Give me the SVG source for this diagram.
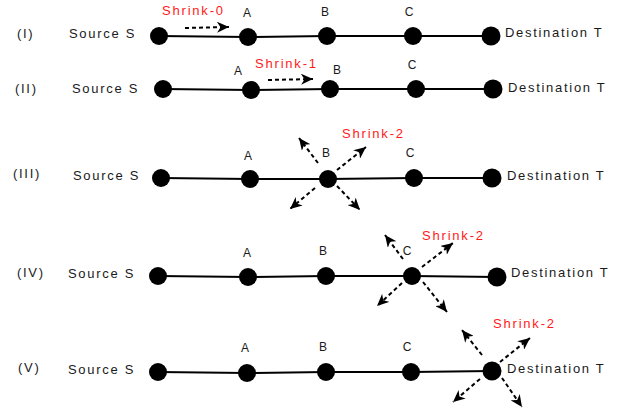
<svg xmlns="http://www.w3.org/2000/svg" width="626" height="410" viewBox="0 0 626 410">
<style>
.t{font-family:"Liberation Sans",Arial,sans-serif;font-size:13px;fill:#1a1a1a;letter-spacing:1.7px}
.l{font-family:"Liberation Sans",Arial,sans-serif;font-size:12px;fill:#1a1a1a;text-anchor:middle}
.r{font-family:"Liberation Sans",Arial,sans-serif;font-size:13px;fill:#ff1a1a;letter-spacing:1.8px}
.e{stroke:#000;stroke-width:2;fill:none}
.d{stroke:#000;stroke-width:2;fill:none;stroke-dasharray:4 3;marker-end:url(#ah)}
.n{fill:#000}
</style>
<defs>
<marker id="ah" markerWidth="13" markerHeight="11" refX="12" refY="5.5" orient="auto" markerUnits="userSpaceOnUse">
<path d="M0,0 L12,5.5 L0,11 L3.5,5.5 z" fill="#000"/>
</marker>
</defs>
<g id="row-labels">
<text class="t" x="17" y="38">(I)</text>
<text class="t" x="15" y="93">(II)</text>
<text class="t" x="13" y="178">(III)</text>
<text class="t" x="17" y="277">(IV)</text>
<text class="t" x="18" y="372">(V)</text>
<text class="t" x="69" y="38">Source S</text>
<text class="t" x="72" y="93">Source S</text>
<text class="t" x="73" y="180">Source S</text>
<text class="t" x="68" y="278">Source S</text>
<text class="t" x="68" y="374">Source S</text>
<text class="t" x="505" y="37">Destination T</text>
<text class="t" x="508" y="92">Destination T</text>
<text class="t" x="507" y="180">Destination T</text>
<text class="t" x="511" y="277">Destination T</text>
<text class="t" x="507" y="373">Destination T</text>
<text class="r" x="162" y="15">Shrink-0</text>
<text class="r" x="255" y="68">Shrink-1</text>
<text class="r" x="342" y="138">Shrink-2</text>
<text class="r" x="422" y="240">Shrink-2</text>
<text class="r" x="493" y="328">Shrink-2</text>
</g>
<g id="connectors">
<polyline class="e" points="159,36 248,37 327,36 413,36 491,36"/>
<polyline class="e" points="163,89 251,90 330,89 416,89 493,89"/>
<polyline class="e" points="161,178 250,179 328,179 414,178 492,178"/>
<polyline class="e" points="158,276 248,277 326,276 412,276 497,277"/>
<polyline class="e" points="158,372 247,373 326,372 411,372 492,371"/>
<line class="d" x1="185" y1="28" x2="229" y2="27"/>
<line class="d" x1="268" y1="80" x2="313" y2="79"/>
<line class="d" x1="318" y1="163" x2="299" y2="138"/>
<line class="d" x1="337" y1="170" x2="366" y2="147"/>
<line class="d" x1="315" y1="188" x2="290" y2="209"/>
<line class="d" x1="337" y1="186" x2="360" y2="210"/>
<line class="d" x1="403" y1="259" x2="385" y2="235"/>
<line class="d" x1="422" y1="267" x2="453" y2="243"/>
<line class="d" x1="402" y1="283" x2="377" y2="306"/>
<line class="d" x1="423" y1="282" x2="447" y2="312"/>
<line class="d" x1="482" y1="355" x2="462" y2="330"/>
<line class="d" x1="500" y1="362" x2="530" y2="338"/>
<line class="d" x1="480" y1="379" x2="453" y2="402"/>
<line class="d" x1="502" y1="378" x2="522" y2="407"/>
</g>
<g id="row1">
<g id="S1"><circle class="n" cx="159" cy="36" r="9"/></g>
<g id="A1"><circle class="n" cx="248" cy="37" r="9"/><text class="l" x="247" y="17">A</text></g>
<g id="B1"><circle class="n" cx="327" cy="36" r="9"/><text class="l" x="325" y="16">B</text></g>
<g id="C1"><circle class="n" cx="413" cy="36" r="9"/><text class="l" x="409" y="16">C</text></g>
<g id="T1"><circle class="n" cx="491" cy="36" r="9.5"/></g>
</g>
<g id="row2">
<g id="S2"><circle class="n" cx="163" cy="89" r="9"/></g>
<g id="A2"><circle class="n" cx="251" cy="90" r="9"/><text class="l" x="238" y="75">A</text></g>
<g id="B2"><circle class="n" cx="330" cy="89" r="9"/><text class="l" x="337" y="74">B</text></g>
<g id="C2"><circle class="n" cx="416" cy="89" r="9"/><text class="l" x="412" y="69">C</text></g>
<g id="T2"><circle class="n" cx="493" cy="89" r="9.5"/></g>
</g>
<g id="row3">
<g id="S3"><circle class="n" cx="161" cy="178" r="9"/></g>
<g id="A3"><circle class="n" cx="250" cy="179" r="9"/><text class="l" x="248" y="160">A</text></g>
<g id="B3"><circle class="n" cx="328" cy="179" r="9"/><text class="l" x="326" y="157">B</text></g>
<g id="C3"><circle class="n" cx="414" cy="178" r="9"/><text class="l" x="410" y="157">C</text></g>
<g id="T3"><circle class="n" cx="492" cy="178" r="9.5"/></g>
</g>
<g id="row4">
<g id="S4"><circle class="n" cx="158" cy="276" r="9"/></g>
<g id="A4"><circle class="n" cx="248" cy="277" r="9"/><text class="l" x="247" y="257">A</text></g>
<g id="B4"><circle class="n" cx="326" cy="276" r="9"/><text class="l" x="323" y="255">B</text></g>
<g id="C4"><circle class="n" cx="412" cy="276" r="9"/><text class="l" x="407" y="255">C</text></g>
<g id="T4"><circle class="n" cx="497" cy="277" r="9.5"/></g>
</g>
<g id="row5">
<g id="S5"><circle class="n" cx="158" cy="372" r="9"/></g>
<g id="A5"><circle class="n" cx="247" cy="373" r="9"/><text class="l" x="245" y="352">A</text></g>
<g id="B5"><circle class="n" cx="326" cy="372" r="9"/><text class="l" x="323" y="351">B</text></g>
<g id="C5"><circle class="n" cx="411" cy="372" r="9"/><text class="l" x="407" y="351">C</text></g>
<g id="T5"><circle class="n" cx="492" cy="371" r="9.5"/></g>
</g>
</svg>
